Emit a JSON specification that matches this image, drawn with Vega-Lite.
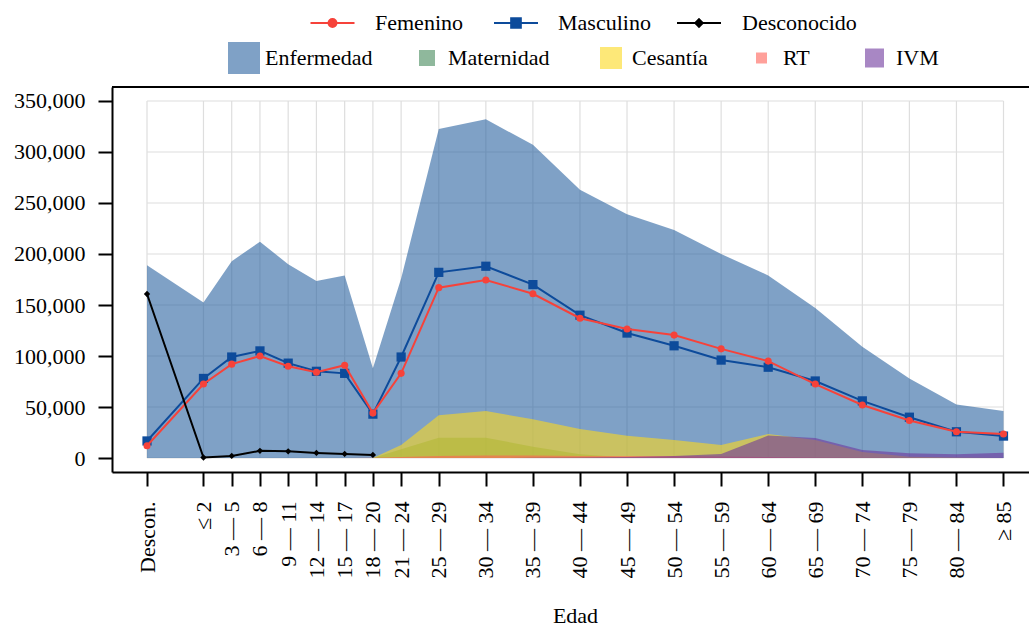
{
  "$schema": "https://vega.github.io/schema/vega-lite/v6.json",
  "width": 917,
  "height": 385,
  "autosize": {"type": "none"},
  "padding": {"left": 112, "top": 87, "right": 0, "bottom": 156},
  "background": "white",
  "config": {
    "view": {"stroke": null},
    "font": "Liberation Serif",
    "axis": {
      "labelFont": "Liberation Serif", "labelFontSize": 22, "labelColor": "#000",
      "domainColor": "#000", "domainWidth": 2, "tickColor": "#000", "tickWidth": 2, "tickSize": 14,
      "grid": false, "titleFont": "Liberation Serif", "titleFontSize": 22, "titleFontWeight": "normal", "titleColor": "#000"
    },
    "legend": {
      "labelFont": "Liberation Serif", "labelFontSize": 22, "labelColor": "#000",
      "orient": "none", "padding": 0, "offset": 0
    }
  },
  "datasets": {
    "edades": [
      {"edad": -6, "grupo": "Descon.", "Enfermedad": 189000, "Maternidad": 0, "Cesantia": 0, "RT": 0, "IVM": 0, "Femenino": 12000, "Masculino": 16700, "Desconocido": 160800},
      {"edad": 0, "grupo": "≤ 2", "Enfermedad": 152500, "Maternidad": 0, "Cesantia": 0, "RT": 0, "IVM": 0, "Femenino": 72500, "Masculino": 78000, "Desconocido": 500},
      {"edad": 3, "grupo": "3 — 5", "Enfermedad": 193000, "Maternidad": 0, "Cesantia": 0, "RT": 0, "IVM": 0, "Femenino": 92000, "Masculino": 99000, "Desconocido": 2000},
      {"edad": 6, "grupo": "6 — 8", "Enfermedad": 212000, "Maternidad": 0, "Cesantia": 0, "RT": 0, "IVM": 0, "Femenino": 100000, "Masculino": 105000, "Desconocido": 7000},
      {"edad": 9, "grupo": "9 — 11", "Enfermedad": 190000, "Maternidad": 0, "Cesantia": 0, "RT": 0, "IVM": 0, "Femenino": 90000, "Masculino": 93000, "Desconocido": 6500},
      {"edad": 12, "grupo": "12 — 14", "Enfermedad": 173500, "Maternidad": 0, "Cesantia": 0, "RT": 0, "IVM": 0, "Femenino": 84000, "Masculino": 85000, "Desconocido": 5000},
      {"edad": 15, "grupo": "15 — 17", "Enfermedad": 179000, "Maternidad": 0, "Cesantia": 0, "RT": 0, "IVM": 0, "Femenino": 91000, "Masculino": 83000, "Desconocido": 4000},
      {"edad": 18, "grupo": "18 — 20", "Enfermedad": 88000, "Maternidad": 0, "Cesantia": 0, "RT": 300, "IVM": 0, "Femenino": 44000, "Masculino": 43000, "Desconocido": 3000},
      {"edad": 21, "grupo": "21 — 24", "Enfermedad": 176000, "Maternidad": 8500, "Cesantia": 12700, "RT": 1000, "IVM": 0, "Femenino": 83000, "Masculino": 99000, "Desconocido": null},
      {"edad": 25, "grupo": "25 — 29", "Enfermedad": 322500, "Maternidad": 19900, "Cesantia": 42000, "RT": 2000, "IVM": 0, "Femenino": 167000, "Masculino": 182000, "Desconocido": null},
      {"edad": 30, "grupo": "30 — 34", "Enfermedad": 332000, "Maternidad": 19900, "Cesantia": 46000, "RT": 2500, "IVM": 0, "Femenino": 174500, "Masculino": 188000, "Desconocido": null},
      {"edad": 35, "grupo": "35 — 39", "Enfermedad": 307000, "Maternidad": 11000, "Cesantia": 38000, "RT": 2500, "IVM": 200, "Femenino": 161000, "Masculino": 170000, "Desconocido": null},
      {"edad": 40, "grupo": "40 — 44", "Enfermedad": 263000, "Maternidad": 3600, "Cesantia": 28500, "RT": 2000, "IVM": 500, "Femenino": 137000, "Masculino": 140000, "Desconocido": null},
      {"edad": 45, "grupo": "45 — 49", "Enfermedad": 239000, "Maternidad": 500, "Cesantia": 21900, "RT": 2000, "IVM": 1000, "Femenino": 126500, "Masculino": 122500, "Desconocido": null},
      {"edad": 50, "grupo": "50 — 54", "Enfermedad": 223500, "Maternidad": 200, "Cesantia": 17600, "RT": 2000, "IVM": 2000, "Femenino": 120500, "Masculino": 110000, "Desconocido": null},
      {"edad": 55, "grupo": "55 — 59", "Enfermedad": 200000, "Maternidad": 0, "Cesantia": 12700, "RT": 1500, "IVM": 4000, "Femenino": 107000, "Masculino": 96000, "Desconocido": null},
      {"edad": 60, "grupo": "60 — 64", "Enfermedad": 179000, "Maternidad": 0, "Cesantia": 23500, "RT": 1000, "IVM": 22000, "Femenino": 95000, "Masculino": 89000, "Desconocido": null},
      {"edad": 65, "grupo": "65 — 69", "Enfermedad": 147000, "Maternidad": 0, "Cesantia": 17600, "RT": 500, "IVM": 19600, "Femenino": 72500, "Masculino": 75500, "Desconocido": null},
      {"edad": 70, "grupo": "70 — 74", "Enfermedad": 109000, "Maternidad": 0, "Cesantia": 6000, "RT": 200, "IVM": 7800, "Femenino": 52000, "Masculino": 56000, "Desconocido": null},
      {"edad": 75, "grupo": "75 — 79", "Enfermedad": 78000, "Maternidad": 0, "Cesantia": 1300, "RT": 0, "IVM": 4600, "Femenino": 36800, "Masculino": 40000, "Desconocido": null},
      {"edad": 80, "grupo": "80 — 84", "Enfermedad": 52500, "Maternidad": 0, "Cesantia": 500, "RT": 0, "IVM": 3600, "Femenino": 25700, "Masculino": 25700, "Desconocido": null},
      {"edad": 85, "grupo": "≥ 85", "Enfermedad": 46000, "Maternidad": 0, "Cesantia": 0, "RT": 0, "IVM": 5200, "Femenino": 23500, "Masculino": 21500, "Desconocido": null}
    ],
    "rejilla": [
      {"v": 0}, {"v": 50000}, {"v": 100000}, {"v": 150000}, {"v": 200000}, {"v": 250000}, {"v": 300000}, {"v": 350000}
    ]
  },
  "data": {"name": "edades"},
  "resolve": {"scale": {"color": "independent"}, "legend": {"color": "independent"}},
  "layer": [
    {
      "mark": {"type": "rule", "color": "#dedede", "strokeWidth": 1.2},
      "encoding": {
        "x": {
          "field": "edad", "type": "quantitative",
          "scale": {"domain": [-9.72, 87.71], "nice": false, "zero": false},
          "axis": {
            "values": [-6, 0, 3, 6, 9, 12, 15, 18, 21, 25, 30, 35, 40, 45, 50, 55, 60, 65, 70, 75, 80, 85],
            "labelExpr": "['Descon.','≤ 2','3 — 5','6 — 8','9 — 11','12 — 14','15 — 17','18 — 20','21 — 24','25 — 29','30 — 34','35 — 39','40 — 44','45 — 49','50 — 54','55 — 59','60 — 64','65 — 69','70 — 74','75 — 79','80 — 84','≥ 85'][indexof([-6,0,3,6,9,12,15,18,21,25,30,35,40,45,50,55,60,65,70,75,80,85], datum.value)]",
            "labelAngle": -90, "labelPadding": 15, "labelBound": false, "labelOverlap": false,
            "title": "Edad", "titleX": 463, "titleY": 150, "titleBaseline": "alphabetic", "titleAlign": "center", "titleAnchor": null
          }
        },
        "y": {
          "datum": 0, "type": "quantitative",
          "scale": {"domain": [-13725, 363725], "nice": false, "zero": false},
          "axis": {"values": [0, 50000, 100000, 150000, 200000, 250000, 300000, 350000], "format": ",d", "labelPadding": 13, "title": null}
        },
        "y2": {"datum": 350000}
      }
    },
    {
      "data": {"name": "rejilla"},
      "mark": {"type": "rule", "color": "#dedede", "strokeWidth": 1.2},
      "encoding": {
        "y": {"field": "v", "type": "quantitative", "title": null},
        "x": {"datum": -6, "type": "quantitative"},
        "x2": {"datum": 85}
      }
    },
    {
      "mark": {"type": "area", "opacity": 0.6},
      "encoding": {
        "x": {"field": "edad", "type": "quantitative"},
        "y": {"field": "Enfermedad", "type": "quantitative", "title": null},
        "y2": {"datum": 0},
        "color": {"datum": "Enfermedad", "type": "nominal", "scale": {"range": ["#2a62a0"]},
          "legend": {"title": null, "symbolType": "square", "symbolSize": 1024, "symbolStrokeWidth": 0, "labelOffset": 5, "legendX": 116, "legendY": -45}}
      }
    },
    {
      "mark": {"type": "area", "opacity": 0.6},
      "encoding": {
        "x": {"field": "edad", "type": "quantitative"},
        "y": {"field": "Maternidad", "type": "quantitative", "title": null},
        "y2": {"datum": 0},
        "color": {"datum": "Maternidad", "type": "nominal", "scale": {"range": ["#44895a"]},
          "legend": {"title": null, "symbolType": "square", "symbolSize": 256, "symbolStrokeWidth": 0, "labelOffset": 10, "legendX": 304, "legendY": -40}}
      }
    },
    {
      "mark": {"type": "area", "opacity": 0.6},
      "encoding": {
        "x": {"field": "edad", "type": "quantitative"},
        "y": {"field": "Cesantia", "type": "quantitative", "title": null},
        "y2": {"datum": 0},
        "color": {"datum": "Cesantía", "type": "nominal", "scale": {"range": ["#fcd91e"]},
          "legend": {"title": null, "symbolType": "square", "symbolSize": 484, "symbolStrokeWidth": 0, "labelOffset": 10, "legendX": 488, "legendY": -40}}
      }
    },
    {
      "mark": {"type": "area", "opacity": 0.6},
      "encoding": {
        "x": {"field": "edad", "type": "quantitative"},
        "y": {"field": "RT", "type": "quantitative", "title": null},
        "y2": {"datum": 0},
        "color": {"datum": "RT", "type": "nominal", "scale": {"range": ["#ff6157"]},
          "legend": {"title": null, "symbolType": "square", "symbolSize": 121, "symbolStrokeWidth": 0, "labelOffset": 10.5, "legendX": 638.5, "legendY": -40}}
      }
    },
    {
      "mark": {"type": "area", "opacity": 0.6},
      "encoding": {
        "x": {"field": "edad", "type": "quantitative"},
        "y": {"field": "IVM", "type": "quantitative", "title": null},
        "y2": {"datum": 0},
        "color": {"datum": "IVM", "type": "nominal", "scale": {"range": ["#6e379d"]},
          "legend": {"title": null, "symbolType": "square", "symbolSize": 361, "symbolStrokeWidth": 0, "labelOffset": 10.5, "legendX": 751.5, "legendY": -40}}
      }
    },
    {
      "mark": {"type": "line", "strokeWidth": 2, "point": {"filled": true, "shape": "square", "size": 85}},
      "encoding": {
        "x": {"field": "edad", "type": "quantitative"},
        "y": {"field": "Masculino", "type": "quantitative", "title": null},
        "color": {"datum": "Masculino", "type": "nominal", "scale": {"range": ["#0d4b9b"]},
          "legend": {"title": null, "symbolType": "M-1,0L1,0M-0.22,-0.22L0.22,-0.22L0.22,0.22L-0.22,0.22Z", "symbolSize": 1936, "symbolStrokeWidth": 2, "symbolFillColor": "#0d4b9b", "labelOffset": 19, "legendX": 381, "legendY": -87,
            "encode": {"symbols": {"update": {"fill": {"value": "#0d4b9b"}, "stroke": {"value": "#0d4b9b"}, "strokeWidth": {"value": 2}}}}}}
      }
    },
    {
      "mark": {"type": "line", "strokeWidth": 2, "point": {"filled": true, "shape": "circle", "size": 50}},
      "encoding": {
        "x": {"field": "edad", "type": "quantitative"},
        "y": {"field": "Femenino", "type": "quantitative", "title": null},
        "color": {"datum": "Femenino", "type": "nominal", "scale": {"range": ["#f6423a"]},
          "legend": {"title": null, "symbolType": "M-1,0L1,0M-0.18,0A0.18,0.18,0,1,1,0.18,0A0.18,0.18,0,1,1,-0.18,0Z", "symbolSize": 1936, "symbolStrokeWidth": 2, "symbolFillColor": "#f6423a", "labelOffset": 19.5, "legendX": 197.5, "legendY": -87,
            "encode": {"symbols": {"update": {"fill": {"value": "#f6423a"}, "stroke": {"value": "#f6423a"}, "strokeWidth": {"value": 2}}}}}}
      }
    },
    {
      "mark": {"type": "line", "strokeWidth": 2, "point": {"filled": true, "shape": "diamond", "size": 40}},
      "encoding": {
        "x": {"field": "edad", "type": "quantitative"},
        "y": {"field": "Desconocido", "type": "quantitative", "title": null},
        "color": {"datum": "Desconocido", "type": "nominal", "scale": {"range": ["#000000"]},
          "legend": {"title": null, "symbolType": "M-1,0L1,0M0,-0.17L0.17,0L0,0.17L-0.17,0Z", "symbolSize": 1936, "symbolStrokeWidth": 2, "symbolFillColor": "#000000", "labelOffset": 20, "legendX": 564, "legendY": -87,
            "encode": {"symbols": {"update": {"fill": {"value": "#000000"}, "stroke": {"value": "#000000"}, "strokeWidth": {"value": 2}}}}}}
      }
    },
    {
      "mark": {"type": "rule", "color": "#000000", "strokeWidth": 2},
      "encoding": {
        "y": {"datum": 363725, "type": "quantitative"},
        "x": {"datum": -9.72, "type": "quantitative"},
        "x2": {"datum": 87.71}
      }
    }
  ]
}
